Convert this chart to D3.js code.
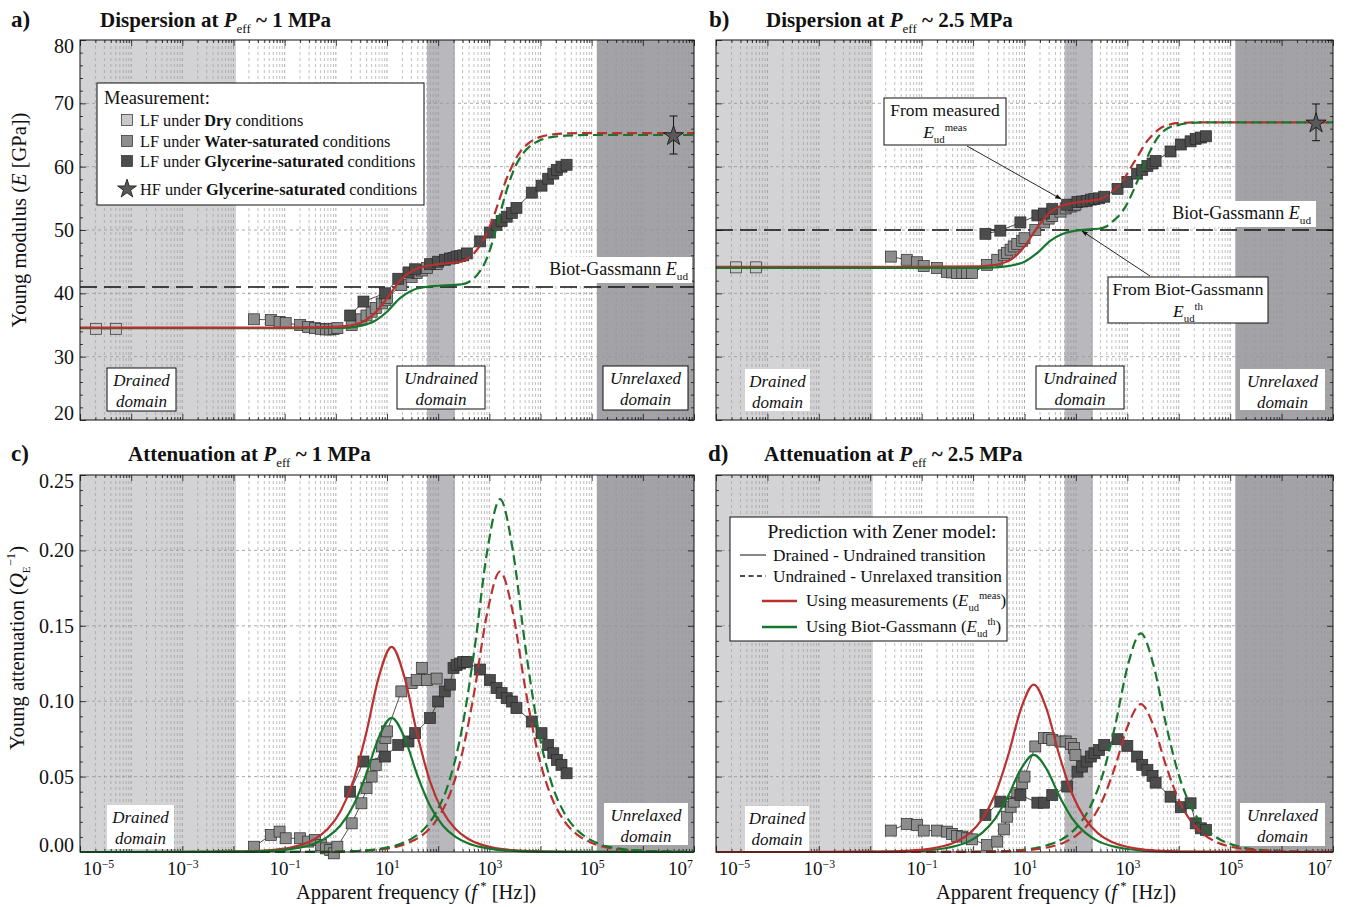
<!DOCTYPE html>
<html>
<head>
<meta charset="utf-8">
<script src="https://cdn.jsdelivr.net/npm/d3@7"></script>
<style>
  body { margin: 0; background: #fff; }
  svg { font-family: "Liberation Serif", "Times New Roman", serif; }
</style>
</head>
<body>
<svg id="fig" width="1348" height="907"></svg>
<script>
// ---------------- data (frequencies as log10 of f* in Hz) ----------------
const xLabelExps = [-5, -3, -1, 1, 3, 5, 7];
const eTicks = [20, 30, 40, 50, 60, 70, 80];
const qTicks = [0, 0.05, 0.10, 0.15, 0.20, 0.25];

// shaded frequency domains
const drainedBand = [-5, -1.95];
const undrainedBand = [1.78, 2.33];
const unrelaxedBand = [5.1, 7];

// Biot-Gassmann undrained modulus
const bgEud = [41.0, 50.0];

// LF dry
const dryFreq1 = [-4.69, -4.30];
const dryE1 = [34.4, 34.4];
const dryFreq2 = [-4.61, -4.22];
const dryE2 = [44.1, 44.1];

// LF water-saturated, P_eff ~ 1 MPa
const waterFreq1 = [-1.60, -1.27, -1.10, -0.98, -0.70, -0.54, -0.41, -0.29, -0.19, -0.11, -0.04, 0.03,
  0.31, 0.50, 0.60, 0.70, 0.78, 0.90, 0.97, 1.00, 1.28, 1.48, 1.58, 1.68, 1.78, 1.97];
const waterE1 = [35.9, 35.8, 35.5, 35.3, 35.0, 34.7, 34.5, 34.4, 34.3, 34.3, 34.4, 34.5,
  35.0, 35.9, 36.5, 37.1, 37.7, 38.4, 38.9, 39.3, 41.3, 42.6, 43.2, 43.6, 44.0, 44.6];
const waterQ1 = [0.0035, 0.0113, 0.0135, 0.0091, 0.0091, 0.0069, 0.0080, 0.0046, 0.0024, 0.0013, -0.0009, 0.0035,
  0.019, 0.0323, 0.0423, 0.050, 0.0578, 0.070, 0.0755, 0.080, 0.1065, 0.112, 0.114, 0.122, 0.114, 0.115];

// LF glycerine-saturated, P_eff ~ 1 MPa
const glyFreq1 = [0.28, 0.54, 0.96, 1.22, 1.42, 1.55, 1.84, 2.00, 2.13, 2.23, 2.30, 2.36, 2.43, 2.49, 2.56,
  2.82, 3.01, 3.14, 3.24, 3.34, 3.44, 3.53, 3.83, 4.02, 4.15, 4.25, 4.32, 4.41, 4.51];
const glyE1 = [36.5, 38.7, 40.0, 42.3, 43.3, 43.8, 44.6, 45.0, 45.3, 45.5, 45.6, 45.8, 45.9, 46.0, 46.3,
  48.2, 49.6, 50.8, 51.4, 52.1, 52.7, 53.5, 55.9, 57.0, 58.1, 58.9, 59.5, 60.0, 60.3];
const glyQ1 = [0.040, 0.060, 0.0633, 0.071, 0.0733, 0.0788, 0.0888, 0.0998, 0.1065, 0.111, 0.122, 0.124, 0.125, 0.126, 0.126,
  0.121, 0.114, 0.1087, 0.1054, 0.102, 0.0998, 0.0954, 0.0865, 0.0788, 0.071, 0.0655, 0.061, 0.0578, 0.0522];

// LF water-saturated, P_eff ~ 2.5 MPa
const waterFreq2 = [-1.60, -1.29, -1.09, -0.96, -0.70, -0.51, -0.41, -0.31, -0.21, -0.12, -0.02, 0.27, 0.47,
  0.60, 0.66, 0.73, 0.79, 0.86, 0.955, 1.00, 1.21, 1.38, 1.47, 1.54, 1.70, 1.80, 1.90, 1.96, 1.99];
const waterE2 = [45.8, 45.3, 44.9, 44.3, 44.0, 43.4, 43.3, 43.2, 43.2, 43.2, 43.2, 44.5, 45.3,
  46.0, 46.4, 46.9, 47.4, 47.8, 48.3, 48.7, 50.0, 51.2, 51.8, 52.2, 52.9, 53.4, 53.7, 53.9, 54.0];
const waterQ2 = [0.0142, 0.0186, 0.018, 0.0142, 0.0142, 0.0135, 0.012, 0.0106, 0.0102, 0.0091, 0.0084, 0.0046, 0.0069,
  0.015, 0.0234, 0.030, 0.0334, 0.039, 0.0456, 0.050, 0.070, 0.0755, 0.0755, 0.0744, 0.0733, 0.0733, 0.0717, 0.0689, 0.0644];

// LF glycerine-saturated, P_eff ~ 2.5 MPa
const glyFreq2 = [0.24, 0.53, 0.92, 1.25, 1.38, 1.54, 1.83, 2.03, 2.12, 2.21, 2.29, 2.36, 2.45, 2.55,
  2.81, 3.00, 3.19, 3.29, 3.39, 3.49, 3.55, 3.84, 4.04, 4.23, 4.33, 4.43, 4.53];
const glyE2 = [49.4, 49.9, 51.2, 52.3, 52.6, 53.3, 54.0, 54.4, 54.5, 54.6, 54.8, 54.9, 55.0, 55.25,
  56.5, 57.6, 58.9, 59.5, 60.1, 60.5, 60.9, 62.4, 63.5, 64.0, 64.4, 64.6, 64.8];
const glyQ2 = [0.0246, 0.0334, 0.0378, 0.0327, 0.0327, 0.0378, 0.0434, 0.0533, 0.0566, 0.060, 0.0633, 0.0655, 0.0677, 0.0710,
  0.0748, 0.0704, 0.0633, 0.0578, 0.0544, 0.0505, 0.046, 0.0367, 0.0297, 0.0323, 0.019, 0.0157, 0.0146];

// HF glycerine-saturated (ultrasonic) with error
const hfFreq = [6.60, 6.67];
const hfE = [65.0, 67.0];
const hfErr = [3.0, 2.9];

// Zener model, dispersion [log10 f, E]
const measSolid1 = [[-5,34.6],[-1,34.6],[0,34.7],[0.25,34.9],[0.5,35.4],[0.75,36.8],[1.0,39.2],[1.25,42.0],[1.5,43.6],[1.75,44.3],[2.0,44.6],[2.25,44.8],[2.45,45.0]];
const measDash1 = [[2.45,45.0],[2.6,45.6],[2.75,46.8],[2.9,48.7],[3.0,50.4],[3.1,52.5],[3.2,54.9],[3.3,57.3],[3.4,59.3],[3.5,61.0],[3.6,62.3],[3.75,63.6],[4.0,64.7],[4.25,65.1],[4.5,65.25],[5,65.3],[7,65.3]];
const thSolid1 = [[-5,34.5],[-1,34.5],[0,34.55],[0.25,34.6],[0.5,34.9],[0.75,35.6],[1.0,37.1],[1.25,39.2],[1.5,40.5],[1.75,41.0],[2.0,41.2],[2.25,41.3],[2.45,41.4]];
const thDash1 = [[2.45,41.4],[2.6,41.8],[2.75,42.8],[2.9,44.6],[3.0,46.6],[3.1,49.2],[3.2,52.3],[3.3,55.2],[3.4,57.8],[3.5,59.9],[3.6,61.4],[3.75,62.9],[4.0,64.2],[4.25,64.7],[4.5,64.9],[5,65.0],[7,65.0]];

const measSolid2 = [[-5,44.2],[-1,44.2],[0,44.25],[0.25,44.35],[0.5,44.6],[0.75,45.4],[1.0,47.4],[1.25,50.4],[1.5,52.8],[1.75,53.9],[2.0,54.35],[2.25,54.6],[2.45,54.8]];
const measDash2 = [[2.45,54.8],[2.6,55.4],[2.75,56.4],[2.9,57.6],[3.0,58.9],[3.1,60.3],[3.2,61.6],[3.3,63.0],[3.4,64.2],[3.5,65.1],[3.65,66.1],[3.8,66.6],[4.0,66.9],[4.5,67.0],[7,67.0]];
const thSolid2 = [[-5,44.0],[-1,44.0],[0,44.0],[0.5,44.15],[0.75,44.4],[1.0,45.0],[1.25,46.4],[1.5,48.3],[1.75,49.4],[2.0,49.9],[2.25,50.1],[2.45,50.2]];
const thDash2 = [[2.45,50.2],[2.6,50.6],[2.75,51.6],[2.9,52.9],[3.0,54.2],[3.1,55.9],[3.2,57.8],[3.3,59.8],[3.4,61.7],[3.5,63.4],[3.6,64.7],[3.75,65.9],[4.0,66.6],[4.25,66.9],[4.5,67.0],[7,67.0]];

// Zener model, attenuation [log10 f, 1/Q]
const attMeasSolid1 = [[-5,0],[-2.91,0.00003],[-1.91,0.0003],[-1.41,0.0009],[-0.91,0.0027],[-0.66,0.0049],[-0.41,0.0086],[-0.16,0.0152],[0.09,0.0269],[0.34,0.0469],[0.59,0.0782],[0.84,0.1161],[1.09,0.136],[1.34,0.1161],[1.59,0.0782],[1.84,0.0469],[2.09,0.0269],[2.34,0.0152],[2.59,0.0086],[2.84,0.0049],[3.09,0.0027],[3.59,0.0009],[4.09,0.0003],[5.09,0.00003],[7,0]];
const attThSolid1 = [[-5,0],[-2.91,0.00002],[-1.91,0.0002],[-1.41,0.0006],[-0.91,0.0018],[-0.66,0.0032],[-0.41,0.0056],[-0.16,0.0100],[0.09,0.0176],[0.34,0.0307],[0.59,0.0512],[0.84,0.0760],[1.09,0.089],[1.34,0.0760],[1.59,0.0512],[1.84,0.0307],[2.09,0.0176],[2.34,0.0100],[2.59,0.0056],[2.84,0.0032],[3.09,0.0018],[3.59,0.0006],[4.09,0.0002],[5.09,0.00002],[7,0]];
const attThDash1 = [[-5,0],[-0.79,0.00005],[0.21,0.0005],[0.71,0.0015],[1.21,0.0047],[1.46,0.0084],[1.71,0.0147],[1.96,0.0262],[2.21,0.0463],[2.46,0.0807],[2.71,0.1346],[2.96,0.1998],[3.21,0.234],[3.46,0.1998],[3.71,0.1346],[3.96,0.0807],[4.21,0.0463],[4.46,0.0262],[4.71,0.0147],[4.96,0.0084],[5.21,0.0047],[5.71,0.0015],[6.21,0.0005],[7,0.0001]];
const attMeasDash1 = [[-5,0],[-0.79,0.00004],[0.21,0.0004],[0.71,0.0012],[1.21,0.0037],[1.46,0.0067],[1.71,0.0117],[1.96,0.0208],[2.21,0.0368],[2.46,0.0642],[2.71,0.1070],[2.96,0.1588],[3.21,0.186],[3.46,0.1588],[3.71,0.1070],[3.96,0.0642],[4.21,0.0368],[4.46,0.0208],[4.71,0.0117],[4.96,0.0067],[5.21,0.0037],[5.71,0.0012],[6.21,0.0004],[7,0.0001]];

const attMeasSolid2 = [[-5,0],[-2.82,0.00002],[-1.82,0.0002],[-1.32,0.0007],[-0.82,0.0022],[-0.57,0.0040],[-0.32,0.0070],[-0.07,0.0124],[0.18,0.0220],[0.43,0.0383],[0.68,0.0638],[0.93,0.0948],[1.18,0.111],[1.43,0.0948],[1.68,0.0638],[1.93,0.0383],[2.18,0.0220],[2.43,0.0124],[2.68,0.0070],[2.93,0.0040],[3.18,0.0022],[3.68,0.0007],[4.18,0.0002],[5.18,0.00002],[7,0]];
const attThSolid2 = [[-5,0],[-2.82,0.00001],[-1.82,0.0001],[-1.32,0.0004],[-0.82,0.0013],[-0.57,0.0023],[-0.32,0.0041],[-0.07,0.0072],[0.18,0.0128],[0.43,0.0222],[0.68,0.0370],[0.93,0.0550],[1.18,0.0644],[1.43,0.0550],[1.68,0.0370],[1.93,0.0222],[2.18,0.0128],[2.43,0.0072],[2.68,0.0041],[2.93,0.0023],[3.18,0.0013],[3.68,0.0004],[4.18,0.0001],[5.18,0.00001],[7,0]];
const attThDash2 = [[-5,0],[-0.74,0.00003],[0.26,0.0003],[0.76,0.0009],[1.26,0.0029],[1.51,0.0052],[1.76,0.0091],[2.01,0.0162],[2.26,0.0287],[2.51,0.0500],[2.76,0.0834],[3.01,0.1238],[3.26,0.145],[3.51,0.1238],[3.76,0.0834],[4.01,0.0500],[4.26,0.0287],[4.51,0.0162],[4.76,0.0091],[5.01,0.0052],[5.26,0.0029],[5.76,0.0009],[6.26,0.0003],[7,0.0001]];
const attMeasDash2 = [[-5,0],[-0.74,0.00002],[0.26,0.0002],[0.76,0.0006],[1.26,0.0020],[1.51,0.0035],[1.76,0.0062],[2.01,0.0110],[2.26,0.0194],[2.51,0.0338],[2.76,0.0564],[3.01,0.0837],[3.26,0.098],[3.51,0.0837],[3.76,0.0564],[4.01,0.0338],[4.26,0.0194],[4.51,0.0110],[4.76,0.0062],[5.01,0.0035],[5.26,0.0020],[5.76,0.0006],[6.26,0.0002],[7,0.0001]];

// ---------------- styling ----------------
const RED = "#b8312f", GREEN = "#16772c";
const C_DRY = "#c9c9c9", C_WATER = "#8d8d8d", C_GLY = "#4c4c4c";
const SHADE_L = "#d3d3d6", SHADE_M = "#b9b9bd", SHADE_D = "#a3a3a7";
const svg = d3.select("#fig");
const zip = (xs, ys) => xs.map((v, i) => [v, ys[i]]);

// rich text: parts are strings or {t, b, i, sub, sup}
function rich(sel, parts, base) {
  let cur = 0;
  for (const p of parts) {
    const o = typeof p === "string" ? { t: p } : p;
    const ts = sel.append("tspan").text(o.t);
    const target = o.sub ? base * 0.30 : o.sup ? -base * 0.42 : 0;
    if (target !== cur) { ts.attr("dy", (target - cur).toFixed(2)); cur = target; }
    if (o.sub || o.sup) ts.attr("font-size", (base * (o.k || 0.62)).toFixed(1));
    if (o.b) ts.attr("font-weight", "bold");
    if (o.i) ts.attr("font-style", "italic");
  }
  return sel;
}
function text(parent, x, y, parts, size, anchor, extra) {
  const t = parent.append("text").attr("x", x).attr("y", y)
    .attr("font-size", size).attr("text-anchor", anchor || "start").attr("fill", "#111");
  if (extra) extra(t);
  return rich(t, parts, size);
}

function panel(cfg) {
  const g = svg.append("g");
  const x = d3.scaleLog().domain([1e-5, 1e7]).range([cfg.left, cfg.right]);
  const y = d3.scaleLinear().domain(cfg.yDomain).range([cfg.bottom, cfg.top]);
  const fx = e => x(Math.pow(10, e));
  const h = cfg.bottom - cfg.top;

  // frequency domains
  [[drainedBand, SHADE_L], [undrainedBand, SHADE_M], [unrelaxedBand, SHADE_D]].forEach(([b, c]) => {
    g.append("rect").attr("x", fx(b[0])).attr("y", cfg.top)
      .attr("width", fx(b[1]) - fx(b[0])).attr("height", h).attr("fill", c);
  });

  // grid
  const xMajor = d3.range(-5, 8).map(e => Math.pow(10, e));
  const xMinor = [];
  for (let e = -5; e < 7; e++) for (let m = 2; m <= 9; m++) xMinor.push(m * Math.pow(10, e));
  const grid = g.append("g").attr("stroke", "#959595").attr("fill", "none");
  grid.selectAll(".mn").data(xMinor).join("line")
    .attr("x1", d => x(d)).attr("x2", d => x(d)).attr("y1", cfg.top).attr("y2", cfg.bottom)
    .attr("stroke-width", 0.6).attr("stroke-dasharray", "3,3");
  grid.selectAll(".mj").data(xMajor.slice(1, -1)).join("line")
    .attr("x1", d => x(d)).attr("x2", d => x(d)).attr("y1", cfg.top).attr("y2", cfg.bottom)
    .attr("stroke-width", 0.8).attr("stroke-dasharray", "3,3");
  grid.selectAll(".hy").data(cfg.yTicks.slice(1, -1)).join("line")
    .attr("x1", cfg.left).attr("x2", cfg.right).attr("y1", d => y(d)).attr("y2", d => y(d))
    .attr("stroke-width", 0.8).attr("stroke-dasharray", "3,3");

  // inward ticks on four sides
  const tk = (axisFn, scale, vals, size, tr) => g.append("g").attr("transform", tr)
    .call(axisFn(scale).tickValues(vals).tickSizeInner(size).tickSizeOuter(0).tickFormat(""))
    .call(s => s.select(".domain").remove())
    .call(s => s.selectAll("line").attr("stroke", "#111").attr("stroke-width", 0.8));
  tk(d3.axisBottom, x, xMajor, -6, `translate(0,${cfg.bottom})`);
  tk(d3.axisBottom, x, xMinor, -3, `translate(0,${cfg.bottom})`);
  tk(d3.axisTop, x, xMajor, -6, `translate(0,${cfg.top})`);
  tk(d3.axisTop, x, xMinor, -3, `translate(0,${cfg.top})`);
  tk(d3.axisLeft, y, cfg.yTicks, -6, `translate(${cfg.left},0)`);
  tk(d3.axisLeft, y, cfg.yMinor, -3, `translate(${cfg.left},0)`);
  tk(d3.axisRight, y, cfg.yTicks, -6, `translate(${cfg.right},0)`);
  tk(d3.axisRight, y, cfg.yMinor, -3, `translate(${cfg.right},0)`);

  // y tick labels
  if (cfg.yLabels) {
    const ax = g.append("g").attr("transform", `translate(${cfg.left},0)`)
      .call(d3.axisLeft(y).tickValues(cfg.yTicks).tickSize(0).tickPadding(6).tickFormat(cfg.yFormat));
    ax.select(".domain").remove();
    ax.attr("font-family", null).attr("font-size", null);
    const tt = ax.selectAll("text").attr("font-size", 20).attr("fill", "#111");
    tt.filter(d => d === cfg.yTicks[0]).attr("dy", "-0.05em");
    tt.filter(d => d === cfg.yTicks[cfg.yTicks.length - 1]).attr("dy", "0.62em");
  }
  // x tick labels
  if (cfg.xLabels) {
    const vals = xLabelExps.map(e => Math.pow(10, e));
    const ax = g.append("g").attr("transform", `translate(0,${cfg.bottom})`)
      .call(d3.axisBottom(x).tickValues(vals).tickSize(0).tickPadding(10).tickFormat(""));
    ax.select(".domain").remove();
    ax.attr("font-family", null).attr("font-size", null);
    ax.selectAll("text").each(function (d, i) {
      const t = d3.select(this).attr("font-size", 19).attr("fill", "#111");
      const e = xLabelExps[i];
      rich(t, ["10", { t: (e < 0 ? "\u2212" : "") + Math.abs(e), sup: true, k: 0.62 }], 19);
      if (i === 0) t.attr("x", 18);
      if (i === xLabelExps.length - 1) t.attr("x", -14);
    });
  }
  return { g, x, y, fx };
}

function series(p, freq, vals, fill) {
  const pts = zip(freq, vals);
  p.g.append("path").datum(pts)
    .attr("d", d3.line().x(d => p.fx(d[0])).y(d => p.y(d[1])))
    .attr("fill", "none").attr("stroke", "#222").attr("stroke-width", 0.8);
  p.g.append("g").selectAll("rect").data(pts).join("rect")
    .attr("x", d => p.fx(d[0]) - 5.5).attr("y", d => p.y(d[1]) - 5.5)
    .attr("width", 11).attr("height", 11)
    .attr("fill", fill).attr("stroke", "#2a2a2a").attr("stroke-width", 0.7);
}
function curve(p, pts, color, dashed) {
  p.g.append("path").datum(pts)
    .attr("d", d3.line().x(d => p.fx(d[0])).y(d => p.y(d[1])).curve(d3.curveMonotoneX))
    .attr("fill", "none").attr("stroke", color).attr("stroke-width", 2.2)
    .attr("stroke-dasharray", dashed ? "10,5" : null);
}
function hfPoint(p, f, e, err) {
  const cx = p.fx(f);
  const eb = p.g.append("g").attr("stroke", "#111").attr("stroke-width", 1);
  eb.append("line").attr("x1", cx).attr("x2", cx).attr("y1", p.y(e - err)).attr("y2", p.y(e + err));
  [e - err, e + err].forEach(v => eb.append("line").attr("x1", cx - 4).attr("x2", cx + 4).attr("y1", p.y(v)).attr("y2", p.y(v)));
  p.g.append("path").attr("d", d3.symbol(d3.symbolStar, 125)())
    .attr("transform", `translate(${cx},${p.y(e) + 1})`)
    .attr("fill", "#595959").attr("stroke", "#111").attr("stroke-width", 0.8);
}
function bgLine(p, cfg, v) {
  p.g.append("line").attr("x1", cfg.left).attr("x2", cfg.right).attr("y1", p.y(v)).attr("y2", p.y(v))
    .attr("stroke", "#111").attr("stroke-width", 1.6).attr("stroke-dasharray", "17,7");
}
function domainBox(g, bx, by, bw, bh, word, border) {
  g.append("rect").attr("x", bx).attr("y", by).attr("width", bw).attr("height", bh)
    .attr("fill", "#fff").attr("stroke", border ? "#111" : "none").attr("stroke-width", 1);
  const cx = bx + bw / 2;
  text(g, cx, by + 18, [word], 17, "middle", t => t.attr("font-style", "italic"));
  text(g, cx, by + 39, ["domain"], 17, "middle", t => t.attr("font-style", "italic"));
}
function frame(p, cfg) {
  p.g.append("rect").attr("x", cfg.left).attr("y", cfg.top)
    .attr("width", cfg.right - cfg.left).attr("height", cfg.bottom - cfg.top)
    .attr("fill", "none").attr("stroke", "#111").attr("stroke-width", 1);
}

const eMinor = d3.range(20, 81, 2).filter(v => v % 10 !== 0);
const qMinor = d3.range(0, 26).map(v => v / 100).filter(v => Math.round(v * 100) % 5 !== 0);

const cfgA = { left: 80, right: 694, top: 40, bottom: 420, yDomain: [20, 80], yTicks: eTicks, yMinor: eMinor, yLabels: true, yFormat: d3.format("d") };
const cfgB = { left: 716, right: 1333, top: 40, bottom: 420, yDomain: [20, 80], yTicks: eTicks, yMinor: eMinor, yLabels: false };
const cfgC = { left: 80, right: 694, top: 475, bottom: 852, yDomain: [0, 0.25], yTicks: qTicks, yMinor: qMinor, yLabels: true, yFormat: d3.format(".2f"), xLabels: true };
const cfgD = { left: 716, right: 1333, top: 475, bottom: 852, yDomain: [0, 0.25], yTicks: qTicks, yMinor: qMinor, yLabels: false, xLabels: true };

// ---------------- a) dispersion 1 MPa ----------------
const pA = panel(cfgA);
bgLine(pA, cfgA, bgEud[0]);
series(pA, dryFreq1, dryE1, C_DRY);
series(pA, waterFreq1, waterE1, C_WATER);
series(pA, glyFreq1, glyE1, C_GLY);
curve(pA, thSolid1, GREEN); curve(pA, thDash1, GREEN, true);
curve(pA, measSolid1, RED); curve(pA, measDash1, RED, true);
hfPoint(pA, hfFreq[0], hfE[0], hfErr[0]);
frame(pA, cfgA);
domainBox(pA.g, 107, 368, 69, 43, "Drained", true);
domainBox(pA.g, 397, 366, 88, 43, "Undrained", true);
domainBox(pA.g, 603, 366, 85, 44, "Unrelaxed", true);
pA.g.append("rect").attr("x", 530).attr("y", 257).attr("width", 162).attr("height", 26).attr("fill", "#fff");
text(pA.g, 688, 275, ["Biot-Gassmann ", { t: "E", i: true }, { t: "ud", sub: true }], 18, "end");

// legend (measurements)
const lg = pA.g.append("g");
lg.append("rect").attr("x", 97).attr("y", 83).attr("width", 327).attr("height", 122)
  .attr("fill", "#fff").attr("stroke", "#111").attr("stroke-width", 1);
text(lg, 104, 104, ["Measurement:"], 18.5);
[[C_DRY, 120, "Dry"], [C_WATER, 141, "Water-saturated"], [C_GLY, 161, "Glycerine-saturated"]].forEach(([c, yy, w]) => {
  lg.append("rect").attr("x", 121.5).attr("y", yy - 5.5).attr("width", 11).attr("height", 11)
    .attr("fill", c).attr("stroke", "#2a2a2a").attr("stroke-width", 0.7);
  text(lg, 140, yy + 5.5, ["LF under ", { t: w, b: true }, " conditions"], 16.3);
});
lg.append("path").attr("d", d3.symbol(d3.symbolStar, 110)()).attr("transform", "translate(127,189)")
  .attr("fill", "#595959").attr("stroke", "#111").attr("stroke-width", 0.8);
text(lg, 140, 194.5, ["HF under ", { t: "Glycerine-saturated", b: true }, " conditions"], 16.3);

// ---------------- b) dispersion 2.5 MPa ----------------
const pB = panel(cfgB);
bgLine(pB, cfgB, bgEud[1]);
series(pB, dryFreq2, dryE2, C_DRY);
series(pB, waterFreq2, waterE2, C_WATER);
series(pB, glyFreq2, glyE2, C_GLY);
curve(pB, measSolid2, RED); curve(pB, measDash2, RED, true);
curve(pB, thSolid2, GREEN); curve(pB, thDash2, GREEN, true);
hfPoint(pB, hfFreq[1], hfE[1], hfErr[1]);
frame(pB, cfgB);
domainBox(pB.g, 745, 369, 65, 42, "Drained", false);
domainBox(pB.g, 1036, 366, 88, 43, "Undrained", true);
domainBox(pB.g, 1240, 369, 85, 41, "Unrelaxed", false);
pB.g.append("rect").attr("x", 1166).attr("y", 201).attr("width", 150).attr("height", 26).attr("fill", "#fff");
text(pB.g, 1311, 219, ["Biot-Gassmann ", { t: "E", i: true }, { t: "ud", sub: true }], 18, "end");

// annotations with arrows
const defs = svg.append("defs");
defs.append("marker").attr("id", "ah").attr("viewBox", "0 0 10 10").attr("refX", 9).attr("refY", 5)
  .attr("markerWidth", 7).attr("markerHeight", 7).attr("orient", "auto")
  .append("path").attr("d", "M0,1.5 L10,5 L0,8.5 Z").attr("fill", "#111");
pB.g.append("line").attr("x1", 967).attr("y1", 146).attr("x2", 1061).attr("y2", 199)
  .attr("stroke", "#111").attr("stroke-width", 0.9).attr("marker-end", "url(#ah)");
pB.g.append("line").attr("x1", 1150).attr("y1", 276).attr("x2", 1082).attr("y2", 231)
  .attr("stroke", "#111").attr("stroke-width", 0.9).attr("marker-end", "url(#ah)");
pB.g.append("rect").attr("x", 884).attr("y", 98).attr("width", 122).attr("height", 47)
  .attr("fill", "#fff").attr("stroke", "#111").attr("stroke-width", 1);
text(pB.g, 945, 116, ["From measured"], 17.5, "middle");
text(pB.g, 945, 138, [{ t: "E", i: true }, { t: "ud", sub: true }, { t: "meas", sup: true }], 17.5, "middle");
pB.g.append("rect").attr("x", 1108).attr("y", 277).attr("width", 160).attr("height", 46)
  .attr("fill", "#fff").attr("stroke", "#111").attr("stroke-width", 1);
text(pB.g, 1188, 295, ["From Biot-Gassmann"], 17.5, "middle");
text(pB.g, 1188, 317, [{ t: "E", i: true }, { t: "ud", sub: true }, { t: "th", sup: true }], 17.5, "middle");

// ---------------- c) attenuation 1 MPa ----------------
const pC = panel(cfgC);
series(pC, waterFreq1, waterQ1, C_WATER);
series(pC, glyFreq1, glyQ1, C_GLY);
curve(pC, attMeasSolid1, RED); curve(pC, attMeasDash1, RED, true);
curve(pC, attThSolid1, GREEN); curve(pC, attThDash1, GREEN, true);
frame(pC, cfgC);
domainBox(pC.g, 107, 805, 67, 44, "Drained", false);
domainBox(pC.g, 604, 803, 84, 42, "Unrelaxed", false);

// ---------------- d) attenuation 2.5 MPa ----------------
const pD = panel(cfgD);
series(pD, waterFreq2, waterQ2, C_WATER);
series(pD, glyFreq2, glyQ2, C_GLY);
curve(pD, attThSolid2, GREEN); curve(pD, attThDash2, GREEN, true);
curve(pD, attMeasSolid2, RED); curve(pD, attMeasDash2, RED, true);
frame(pD, cfgD);
domainBox(pD.g, 745, 806, 64, 45, "Drained", false);
domainBox(pD.g, 1240, 803, 85, 43, "Unrelaxed", false);

// legend (Zener model)
const ld = pD.g.append("g");
ld.append("rect").attr("x", 730).attr("y", 517).attr("width", 277).attr("height", 124)
  .attr("fill", "#fff").attr("stroke", "#111").attr("stroke-width", 1);
text(ld, 882, 538, ["Prediction with Zener model:"], 19.5, "middle");
ld.append("line").attr("x1", 740).attr("x2", 766).attr("y1", 555).attr("y2", 555).attr("stroke", "#111").attr("stroke-width", 1);
text(ld, 773, 561, ["Drained - Undrained transition"], 17.3);
ld.append("line").attr("x1", 740).attr("x2", 766).attr("y1", 576).attr("y2", 576).attr("stroke", "#111").attr("stroke-width", 1.3).attr("stroke-dasharray", "5,3.5");
text(ld, 773, 582, ["Undrained - Unrelaxed transition"], 17.3);
ld.append("line").attr("x1", 762).attr("x2", 797).attr("y1", 601).attr("y2", 601).attr("stroke", RED).attr("stroke-width", 2.5);
text(ld, 806, 606, ["Using measurements (", { t: "E", i: true }, { t: "ud", sub: true }, { t: "meas", sup: true }, ")"], 17);
ld.append("line").attr("x1", 762).attr("x2", 797).attr("y1", 627).attr("y2", 627).attr("stroke", GREEN).attr("stroke-width", 2.5);
text(ld, 806, 632, ["Using Biot-Gassmann (", { t: "E", i: true }, { t: "ud", sub: true }, { t: "th", sup: true }, ")"], 17);

// ---------------- titles and axis labels ----------------
const T = svg.append("g");
[["a)", 11, 27, 100, "Dispersion at ", " ~ 1 MPa"],
 ["b)", 709, 27, 766, "Dispersion at ", " ~ 2.5 MPa"],
 ["c)", 11, 461, 128, "Attenuation at ", " ~ 1 MPa"],
 ["d)", 708, 461, 764, "Attenuation at ", " ~ 2.5 MPa"]].forEach(([tag, x0, yb, x1, a, b]) => {
  text(T, x0, yb, [{ t: tag, b: true }], 23);
  text(T, x1, yb, [{ t: a, b: true }, { t: "P", b: true, i: true }, { t: "eff", sub: true }, { t: b, b: true }], 21);
});
text(T, 0, 0, ["Young modulus (", { t: "E", i: true }, " [GPa])"], 20.5, "middle",
  t => t.attr("transform", "translate(26,220) rotate(-90)"));
text(T, 0, 0, ["Young attenuation (", { t: "Q", i: true }, { t: "E", sub: true, k: 0.55 }, { t: "\u22121", sup: true }, ")"], 20.5, "middle",
  t => t.attr("transform", "translate(24,648) rotate(-90)"));
[416, 1056].forEach(cx => text(T, cx, 899, ["Apparent frequency (", { t: "f", i: true }, { t: " *", sup: true }, " [Hz])"], 20.5, "middle"));
</script>
</body>
</html>
